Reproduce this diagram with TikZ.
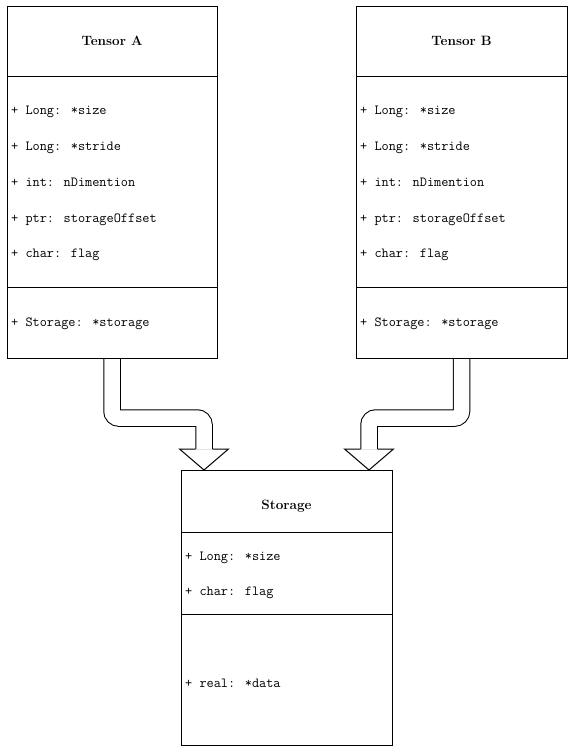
\documentclass[tikz,border=0pt]{standalone}
\usetikzlibrary{calc}
\begin{document}
\begin{tikzpicture}[x=1pt,y=-1pt,
  box/.style={draw, line width=1pt, inner sep=0pt, anchor=north west},
  sep/.style={line width=1pt},
  attr/.style={anchor=base west, inner sep=0pt, font=\ttfamily\fontsize{13.9}{15}\selectfont},
  title/.style={anchor=base, inner sep=0pt, font=\bfseries\fontsize{13.5}{15}\selectfont},
  flow/.style={double, double distance=15.5pt, line width=1pt, rounded corners=7pt},
  head/.style={line width=1pt, line join=miter}]
\useasboundingbox (0,0) rectangle (575,754);

% class boxes (outlines drawn after the flow arrows, below)
\path (7,7) coordinate (tAnw) (356,7) coordinate (tBnw) (181,470) coordinate (stnw);
\node[box, draw=none, minimum width=209pt, minimum height=350pt] (tA) at (tAnw) {};
\node[box, draw=none, minimum width=210pt, minimum height=350pt] (tB) at (tBnw) {};
\node[box, draw=none, minimum width=210pt, minimum height=274pt] (st) at (stnw) {};

% arrow tips on the top edge of Storage
\coordinate (tipA) at ($(st.north west)+(23,0)$);
\coordinate (tipB) at ($(st.north east)+(-23,0)$);

% hollow flow arrows
\draw[flow] (tA.south) -- (tA.south |- 0,418) -- (tipA |- 0,418) -- ($(tipA)+(0,-21)$);
\draw[head] ($(tipA)+(-8.5,-21)$) -- ($(tipA)+(-24.5,-21)$) -- (tipA)
  -- ($(tipA)+(24.5,-21)$) -- ($(tipA)+(8.5,-21)$);
\draw[flow] (tB.south) -- (tB.south |- 0,418) -- (tipB |- 0,418) -- ($(tipB)+(0,-21)$);
\draw[head] ($(tipB)+(-8.5,-21)$) -- ($(tipB)+(-24.5,-21)$) -- (tipB)
  -- ($(tipB)+(24.5,-21)$) -- ($(tipB)+(8.5,-21)$);

% box outlines and compartment separators
\foreach \b in {tA,tB,st}{\draw[line width=1pt] (\b.north west) rectangle (\b.south east);}
\draw[sep] (tA.west |- 0,77) -- (tA.east |- 0,77);
\draw[sep] (tA.west |- 0,287) -- (tA.east |- 0,287);
\draw[sep] (tB.west |- 0,77) -- (tB.east |- 0,77);
\draw[sep] (tB.west |- 0,287) -- (tB.east |- 0,287);
\draw[sep] (st.west |- 0,532) -- (st.east |- 0,532);
\draw[sep] (st.west |- 0,614) -- (st.east |- 0,614);

% Tensor A
\node[title] (tAt) at (tA.north |- 0,46) {Tensor A};
\node[attr] (tA1) at ($(tA.west |- 0,115)+(4,0)$) {+ Long: *size};
\node[attr] (tA2) at ($(tA.west |- 0,151)+(4,0)$) {+ Long: *stride};
\node[attr] (tA3) at ($(tA.west |- 0,186)+(4,0)$) {+ int: nDimention};
\node[attr] (tA4) at ($(tA.west |- 0,222)+(4,0)$) {+ ptr: storageOffset};
\node[attr] (tA5) at ($(tA.west |- 0,257)+(4,0)$) {+ char: flag};
\node[attr] (tA6) at ($(tA.west |- 0,326)+(4,0)$) {+ Storage: *storage};

% Tensor B
\node[title] (tBt) at (tB.north |- 0,46) {Tensor B};
\node[attr] (tB1) at ($(tB.west |- 0,115)+(4,0)$) {+ Long: *size};
\node[attr] (tB2) at ($(tB.west |- 0,151)+(4,0)$) {+ Long: *stride};
\node[attr] (tB3) at ($(tB.west |- 0,186)+(4,0)$) {+ int: nDimention};
\node[attr] (tB4) at ($(tB.west |- 0,222)+(4,0)$) {+ ptr: storageOffset};
\node[attr] (tB5) at ($(tB.west |- 0,257)+(4,0)$) {+ char: flag};
\node[attr] (tB6) at ($(tB.west |- 0,326)+(4,0)$) {+ Storage: *storage};

% Storage
\node[title] (stt) at (st.north |- 0,509) {Storage};
\node[attr] (st1) at ($(st.west |- 0,560)+(4,0)$) {+ Long: *size};
\node[attr] (st2) at ($(st.west |- 0,595)+(4,0)$) {+ char: flag};
\node[attr] (st3) at ($(st.west |- 0,687)+(4,0)$) {+ real: *data};
\end{tikzpicture}
\end{document}
